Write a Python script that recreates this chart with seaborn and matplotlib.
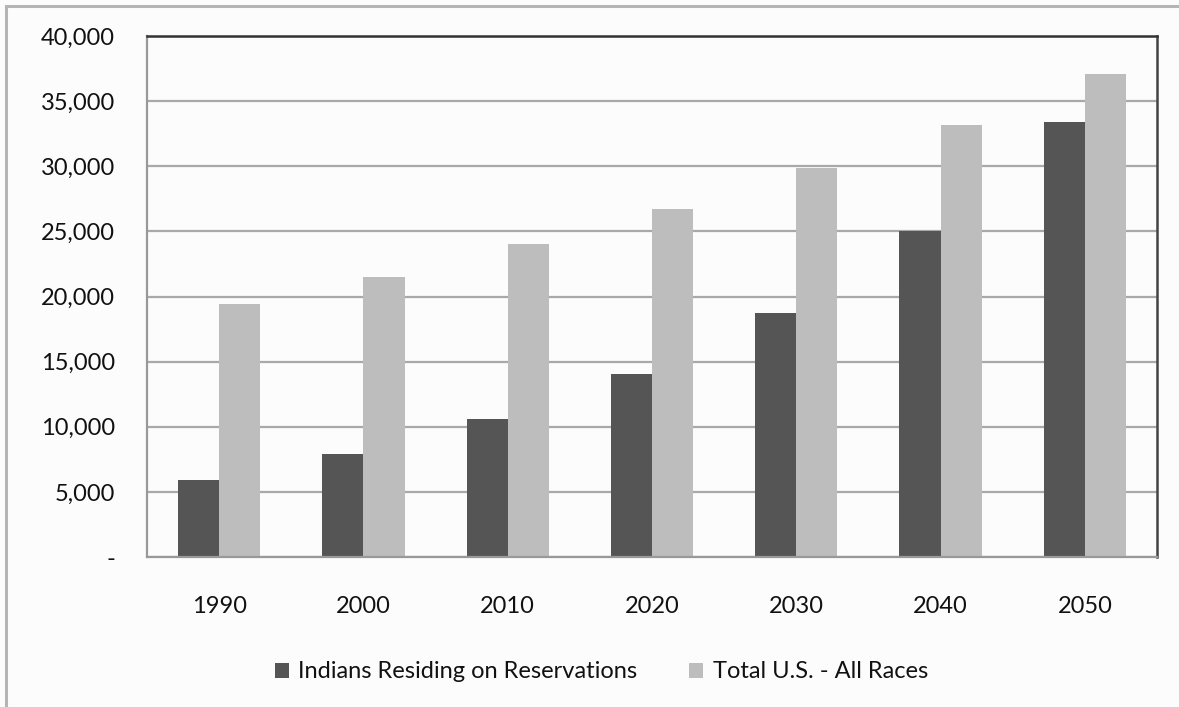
import matplotlib
matplotlib.use("Agg")
import matplotlib.pyplot as plt
import matplotlib.patches as mpatches
from matplotlib.ticker import FuncFormatter, FixedLocator
import seaborn as sns
import pandas as pd

years = ["1990", "2000", "2010", "2020", "2030", "2040", "2050"]
indians = [5900, 7900, 10600, 14050, 18700, 25000, 33400]
total_us = [19400, 21500, 24000, 26700, 29900, 33200, 37050]
series_names = ["Indians Residing on Reservations", "Total U.S. - All Races"]
yticks = [0, 5000, 10000, 15000, 20000, 25000, 30000, 35000, 40000]

df = pd.DataFrame({
    "year": years * 2,
    "value": indians + total_us,
    "series": [series_names[0]] * len(years) + [series_names[1]] * len(years),
})

sns.set_theme(style="white")
plt.rcParams["font.family"] = ["Lato", "DejaVu Sans"]

bg = "#fcfcfc"
dark = "#555555"
light = "#bdbdbd"
grid_c = "#a9a9a9"

fig = plt.figure(figsize=(11.79, 7.07), dpi=100, facecolor=bg)
ax = fig.add_axes([147 / 1179, 1 - 557 / 707, (1157 - 147) / 1179, (557 - 36) / 707])
ax.set_facecolor(bg)

sns.barplot(data=df, x="year", y="value", hue="series", order=years,
            hue_order=series_names, palette=[dark, light], width=0.57,
            gap=0, saturation=1, edgecolor="none", linewidth=0, ax=ax,
            legend=False, zorder=3)

ax.set_ylim(0, 40000)
ax.set_xlim(-0.5, len(years) - 0.5)
ax.yaxis.set_major_locator(FixedLocator(yticks))
ax.yaxis.set_major_formatter(FuncFormatter(lambda v, p: "-" if v == 0 else f"{int(v):,}"))
ax.grid(axis="y", color=grid_c, linewidth=1.6, zorder=0)
ax.set_axisbelow(True)
ax.set_xlabel("")
ax.set_ylabel("")

ax.set_xticks([i - 0.5 for i in range(len(years) + 1)], minor=True)
ax.tick_params(axis="x", which="major", length=0, pad=28, labelsize=17, labelcolor="#111111")
ax.tick_params(axis="x", which="minor", length=7, width=1.2, color="#999999", direction="out")
ax.tick_params(axis="y", which="major", length=6, width=1.4, color="#999999", direction="out",
               pad=17, labelsize=17, labelcolor="#111111")

for side in ["left", "bottom"]:
    ax.spines[side].set_color("#999999")
    ax.spines[side].set_linewidth(1.6)
ax.spines["top"].set_color("#333333")
ax.spines["top"].set_linewidth(1.8)
ax.spines["right"].set_color("#444444")
ax.spines["right"].set_linewidth(1.8)
for s in ax.spines.values():
    s.set_zorder(4)

# outer border (chart frame)
fig.add_artist(mpatches.Rectangle((6 / 1179, -0.1), 1.2, (1 - 6 / 707) + 0.1,
                                  transform=fig.transFigure, fill=False,
                                  edgecolor="#b5b5b5", linewidth=2.2))

handles = [mpatches.Patch(facecolor=dark, edgecolor="none"),
           mpatches.Patch(facecolor=light, edgecolor="none")]
fig.legend(handles, series_names, loc="center", bbox_to_anchor=(0.51, 1 - 672 / 707),
           ncol=2, frameon=False, fontsize=17, handlelength=0.6, handleheight=0.6,
           handletextpad=0.4, columnspacing=2.2, labelcolor="#111111")

fig.savefig("out.png", dpi=100, facecolor=bg)
